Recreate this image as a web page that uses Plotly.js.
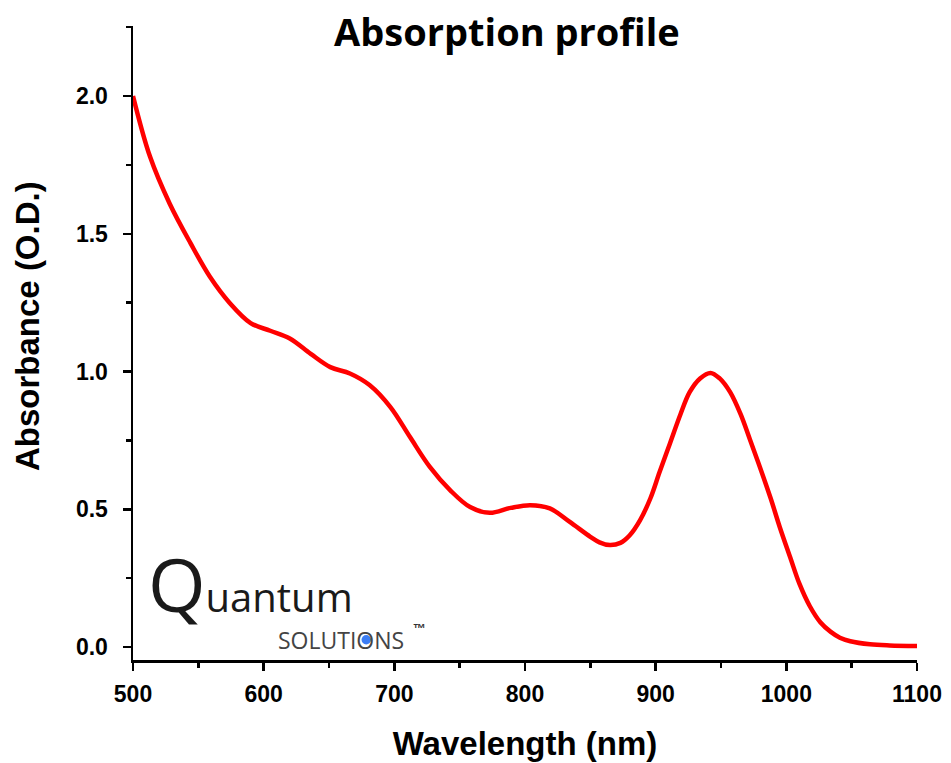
<!DOCTYPE html>
<html>
<head>
<meta charset="utf-8">
<script src="https://cdn.plot.ly/plotly-3.0.1.min.js"></script>
<style>html,body{margin:0;padding:0;background:#fff;}#chart{width:951px;height:763px;}</style>
</head>
<body>
<div id="chart"></div>
<script>
const wavelength = [500, 513, 528, 544, 559, 574, 590, 605, 620, 636, 651, 666, 681, 697, 712, 727, 743, 758, 773, 789, 804, 819, 834, 850, 857, 865, 873, 880, 888, 896, 903, 911, 919, 926, 934, 942, 949, 957, 965, 972, 980, 988, 995, 1003, 1010, 1018, 1026, 1034, 1041, 1049, 1064, 1079, 1100];
const absorbance = [2.0, 1.78, 1.61, 1.466, 1.343, 1.249, 1.176, 1.148, 1.12, 1.064, 1.016, 0.993, 0.951, 0.871, 0.762, 0.655, 0.568, 0.508, 0.487, 0.505, 0.515, 0.503, 0.455, 0.40, 0.38, 0.37, 0.378, 0.405, 0.46, 0.54, 0.635, 0.74, 0.845, 0.925, 0.975, 0.995, 0.975, 0.925, 0.845, 0.755, 0.65, 0.54, 0.435, 0.325, 0.23, 0.148, 0.09, 0.055, 0.034, 0.021, 0.010, 0.006, 0.004];
const xTicks = [500, 600, 700, 800, 900, 1000, 1100];
const yTicks = [0.0, 0.5, 1.0, 1.5, 2.0];
const yTickLabels = ['0.0', '0.5', '1.0', '1.5', '2.0'];

const trace = {
  x: wavelength, y: absorbance, type: 'scatter', mode: 'lines',
  line: {color: '#ff0000', width: 4.5, shape: 'spline', smoothing: 1.0},
  hoverinfo: 'skip'
};

const L = 133, R = 34, T = 26, B = 103, W = 951, H = 763;
const pw = W - L - R, ph = H - T - B;
function px2paperX(px){ return (px - L) / pw; }
function px2paperY(py){ return (H - B - py) / ph; }

const layout = {
  width: W, height: H,
  margin: {l: L, r: R, t: T, b: B, pad: 0},
  paper_bgcolor: '#ffffff', plot_bgcolor: '#ffffff',
  showlegend: false,
  title: {text: '<b>Absorption profile</b>', font: {family: '"Open Sans", sans-serif', size: 38, color: '#000'},
          x: 0.533, xanchor: 'center', y: 0.957, yanchor: 'middle'},
  xaxis: {
    range: [500, 1100], tickvals: xTicks, ticktext: xTicks.map(String),
    showgrid: false, zeroline: false, showline: true, linecolor: '#000', linewidth: 2.5,
    ticks: 'outside', ticklen: 8, tickwidth: 2.5, tickcolor: '#000',
    minor: {dtick: 50, tick0: 500, ticks: 'outside', ticklen: 5, tickwidth: 2.5, tickcolor: '#000', showgrid: false},
    tickfont: {family: '"Liberation Sans", Arial, sans-serif', size: 23, color: '#000', weight: 'bold'},
    ticklabelstandoff: 4,
    title: {text: '<b>Wavelength (nm)</b>', font: {family: '"Liberation Sans", Arial, sans-serif', size: 33, color: '#000'}, standoff: 26},
    automargin: false
  },
  yaxis: {
    range: [-0.047, 2.254], tickvals: yTicks, ticktext: yTickLabels,
    showgrid: false, zeroline: false, showline: true, linecolor: '#000', linewidth: 2.5,
    ticks: 'outside', ticklen: 8, tickwidth: 2.5, tickcolor: '#000',
    minor: {dtick: 0.25, tick0: 0, ticks: 'outside', ticklen: 5, tickwidth: 2.5, tickcolor: '#000', showgrid: false},
    tickfont: {family: '"Liberation Sans", Arial, sans-serif', size: 23, color: '#000', weight: 'bold'},
    ticklabelstandoff: 10,
    automargin: false
  },
  shapes: [
    {type: 'circle', xref: 'paper', yref: 'paper', layer: 'above',
     x0: px2paperX(361.5), x1: px2paperX(371), y0: px2paperY(644.5), y1: px2paperY(635),
     fillcolor: '#3b7df5', line: {width: 0}}
  ],
  annotations: [
    {xref: 'paper', yref: 'paper', x: px2paperX(28), y: px2paperY(326), xanchor: 'center', yanchor: 'middle', showarrow: false,
     textangle: -90, text: '<b>Absorbance (O.D.)</b>', font: {family: '"Liberation Sans", Arial, sans-serif', size: 33, color: '#000'}},
    {xref: 'paper', yref: 'paper', x: px2paperX(146), y: px2paperY(636), xanchor: 'left', yanchor: 'bottom', showarrow: false,
     text: '<span style="font-size:74px">Q</span>uantum', font: {family: '"Open Sans", sans-serif', size: 40, color: '#1a1a1a'}},
    {xref: 'paper', yref: 'paper', x: px2paperX(276), y: px2paperY(640), xanchor: 'left', yanchor: 'middle', showarrow: false,
     text: 'SOLUTIONS', font: {family: '"Open Sans", sans-serif', size: 23, color: '#444'}},
    {xref: 'paper', yref: 'paper', x: px2paperX(411), y: px2paperY(628), xanchor: 'left', yanchor: 'middle', showarrow: false,
     text: '<b>™</b>', font: {family: '"Liberation Sans", sans-serif', size: 13, color: '#333'}}
  ]
};

Plotly.newPlot('chart', [trace], layout, {displayModeBar: false, staticPlot: true});
</script>
</body>
</html>
